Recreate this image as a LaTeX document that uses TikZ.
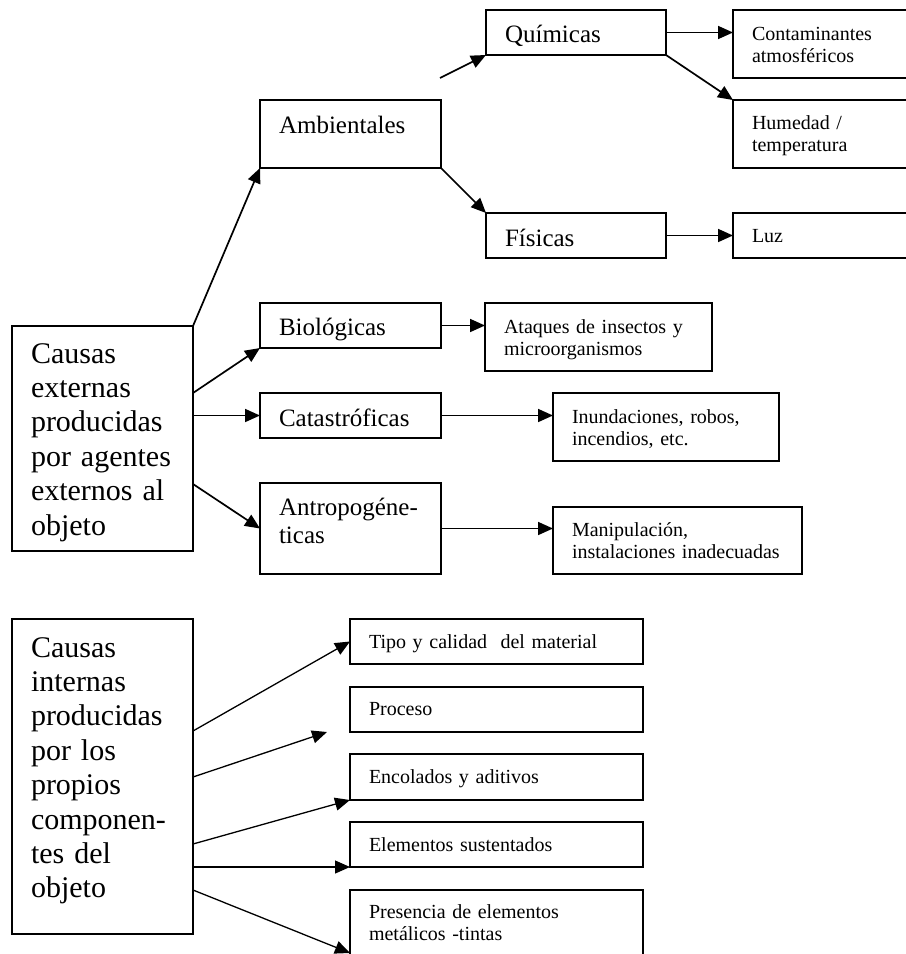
\documentclass[tikz,border=0pt]{standalone}
\usepackage{fontspec}
\setmainfont{Liberation Serif}
\usetikzlibrary{arrows.meta,calc}
\tikzset{
  bx/.style={draw, line width=1.8bp, inner sep=0pt, outer sep=0pt, anchor=north west},
  lbl/.style={anchor=base west, inner sep=0pt, outer sep=0pt, align=left},
  bigf/.style={font=\fontsize{30bp}{34.4bp}\selectfont},
  midf/.style={font=\fontsize{25bp}{28.8bp}\selectfont},
  smlf/.style={font=\fontsize{20bp}{22.5bp}\selectfont},
  arr/.style={line width=1.7bp, -{Triangle[length=15bp,width=13bp]}},
  barr/.style={line width=1.3bp, -{Triangle[length=15bp,width=13bp]}},
}
\newcommand\mkbox[8]{%
  \pgfmathsetmacro\bxw{#4-#2}%
  \pgfmathsetmacro\bxh{#5-#3}%
  \pgfmathsetmacro\bxtw{#4-#2-22}%
  \node[bx, minimum width=\bxw bp, minimum height=\bxh bp] (#1) at (#2,#3) {};
  \node[lbl,#6, text width=\bxtw bp] (#1-t) at ($(#1.north west)+(19,#7)$) {#8};
}
\begin{document}
\begin{tikzpicture}[x=1bp,y=-1bp]
\path[use as bounding box] (0,0) rectangle (906,954);
\clip (0,0) rectangle (906,954);
% top section
\mkbox{ce}{12}{326}{193}{551}{bigf}{37}{Causas\\externas\\producidas\\por agentes\\externos al\\objeto}
\mkbox{amb}{260}{100}{441}{168}{midf}{33}{Ambientales}
\mkbox{qui}{486}{10}{666}{55}{midf}{32}{Químicas}
\mkbox{fis}{486}{213}{666}{258}{midf}{33}{Físicas}
\mkbox{cont}{733}{10}{914}{78}{smlf}{30}{Contaminantes\\atmosféricos}
\mkbox{hum}{733}{100}{914}{168}{smlf}{29}{Humedad /\\temperatura}
\mkbox{luz}{733}{213}{914}{258}{smlf}{29}{Luz}
\mkbox{bio}{260}{303}{441}{348}{midf}{32}{Biológicas}
\mkbox{cat}{260}{393}{441}{438}{midf}{33}{Catastróficas}
\mkbox{ant}{260}{483}{441}{574}{midf}{32}{Antropogéne-\\ticas}
\mkbox{ata}{485}{303}{712}{371}{smlf}{30}{Ataques de insectos y\\microorganismos}
\mkbox{inu}{553}{393}{779}{461}{smlf}{30}{Inundaciones, robos,\\incendios, etc.}
\mkbox{man}{553}{507}{802}{574}{smlf}{29}{Manipulación,\\instalaciones inadecuadas}
% bottom section
\mkbox{ci}{12}{619}{193}{934}{bigf}{38}{Causas\\internas\\producidas\\por los\\propios\\componen-\\tes del\\objeto}
\mkbox{tipo}{350}{619}{643}{664}{smlf}{29}{Tipo y calidad\ \ del material}
\mkbox{pro}{350}{687}{643}{732}{smlf}{28}{Proceso}
\mkbox{enc}{350}{754}{643}{800}{smlf}{29}{Encolados y aditivos}
\mkbox{ele}{350}{822}{643}{867}{smlf}{29}{Elementos sustentados}
\mkbox{pres}{350}{890}{643}{964}{smlf}{28}{Presencia de elementos\\metálicos -tintas}
% connectors top
\coordinate (q0) at (440,78);
\draw[arr] (ce.north east) -- (amb.south west);
\draw[arr] (q0) -- (qui.south west);
\draw[arr] (amb.south east) -- (fis.north west);
\draw[arr] (qui.east) -- (qui.east -| cont.west);
\draw[arr] (qui.south east) -- (hum.north west);
\draw[arr] (fis.east) -- (fis.east -| luz.west);
\draw[arr] ($(ce.north east)+(0,67)$) -- (bio.south west);
\draw[arr] (cat.west -| ce.east) -- (cat.west);
\draw[arr] ($(ce.north east)+(0,158)$) -- (ant.west);
\draw[arr] (bio.east) -- (bio.east -| ata.west);
\draw[arr] (cat.east) -- (cat.east -| inu.west);
\draw[arr] (ant.east) -- (ant.east -| man.west);
% connectors bottom
\coordinate (p0) at (327,732);
\draw[barr] ($(ci.north east)+(0,112)$) -- (tipo.west);
\draw[barr] ($(ci.north east)+(0,158)$) -- (p0);
\draw[barr] ($(ci.north east)+(0,225)$) -- (enc.south west);
\draw[barr] (ele.south west -| ci.east) -- (ele.south west);
\draw[barr] ($(ci.north east)+(0,271)$) -- ($(pres.north west)+(0,63)$);
\end{tikzpicture}
\end{document}
